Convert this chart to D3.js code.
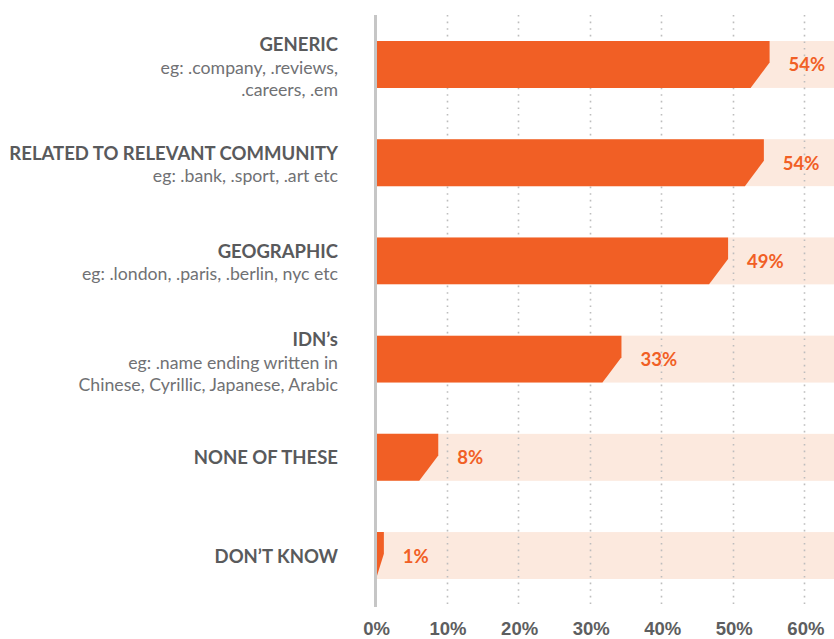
<!DOCTYPE html>
<meta charset="utf-8">
<style>
  body { margin: 0; background: #fff; }
  svg { display: block; font-family: Lato, "Open Sans", sans-serif; }
  .title { font-weight: 700; fill: #595a5c; font-size: 18.5px; }
  .sub { font-weight: 400; fill: #707174; font-size: 17.7px; }
  .pct { font-weight: 700; fill: #f15f25; font-size: 18.5px; }
  .tick text { font-weight: 700; fill: #5d5e60; font-size: 18.5px; }
</style>
<svg width="834" height="639"></svg>
<script src="https://cdn.jsdelivr.net/npm/d3@7"></script>
<script>

var categories = ["GENERIC", "RELATED TO RELEVANT COMMUNITY", "GEOGRAPHIC", "IDN\u2019s", "NONE OF THESE", "DON\u2019T KNOW"];
var subtitles = [
  ["eg: .company, .reviews,", ".careers, .em"],
  ["eg: .bank, .sport, .art etc"],
  ["eg: .london, .paris, .berlin, nyc etc"],
  ["eg: .name ending written in", "Chinese, Cyrillic, Japanese, Arabic"],
  [],
  []
];
// bar lengths as drawn, and the printed labels
var values = [55.0, 54.2, 49.2, 34.3, 8.7, 1.1];
var pctLabels = ["54%", "54%", "49%", "33%", "8%", "1%"];
var ticks = [0, 10, 20, 30, 40, 50, 60];

var svg = d3.select("svg"),
    width = +svg.attr("width"),
    height = +svg.attr("height");

var x = d3.scaleLinear().domain([0, 64]).range([376, 834]);
var y = d3.scaleBand()
    .domain(categories)
    .range([15, 605])
    .paddingInner(0.522)
    .paddingOuter(0.2645);

var rows = categories.map(function(c, i) {
  return { cat: c, sub: subtitles[i], value: values[i], label: pctLabels[i] };
});

// light background bands
svg.append("g")
  .selectAll("rect")
  .data(rows)
  .enter().append("rect")
    .attr("x", x(0))
    .attr("y", function(d) { return y(d.cat); })
    .attr("width", x(64) - x(0))
    .attr("height", y.bandwidth())
    .attr("fill", "#fce9de");

// dotted gridlines
svg.append("g")
  .selectAll("line")
  .data(ticks.slice(1))
  .enter().append("line")
    .attr("x1", function(d) { return Math.round(x(d)) - 0.5; })
    .attr("x2", function(d) { return Math.round(x(d)) - 0.5; })
    .attr("y1", 15)
    .attr("y2", 608)
    .attr("stroke", "#bdbdbd")
    .attr("stroke-width", 1.6)
    .attr("stroke-dasharray", "1.6,5");

// bars with the slanted end
svg.append("g")
  .selectAll("path")
  .data(rows)
  .enter().append("path")
    .attr("fill", "#f15f25")
    .attr("d", function(d) {
      var t = y(d.cat), h = y.bandwidth(), b = t + h;
      var x0 = x(0), xv = x(d.value);
      var xb = Math.max(x0, xv - 19);
      return "M" + x0 + "," + t + "L" + xv + "," + t + "L" + xv + "," + (t + h * 0.46) +
             "L" + xb + "," + b + "L" + x0 + "," + b + "Z";
    });

// value labels
svg.append("g")
  .selectAll("text")
  .data(rows)
  .enter().append("text")
    .attr("class", "pct")
    .attr("x", function(d) { return x(d.value) + 19; })
    .attr("y", function(d) { return y(d.cat) + y.bandwidth() / 2 + 7; })
    .text(function(d) { return d.label; });

// vertical axis line
svg.append("line")
    .attr("x1", 375.5).attr("x2", 375.5)
    .attr("y1", 15).attr("y2", 607)
    .attr("stroke", "#c6c6c6")
    .attr("stroke-width", 3);

// category labels
var lab = svg.append("g")
  .selectAll("text")
  .data(rows)
  .enter().append("text")
    .attr("text-anchor", "end")
    .attr("y", function(d) {
      var n = 1 + d.sub.length;
      return y(d.cat) + y.bandwidth() / 2 - 10 * (n - 1) + 7;
    });

lab.append("tspan")
    .attr("class", "title")
    .attr("x", 338)
    .text(function(d) { return d.cat; });

lab.selectAll("tspan.sub")
  .data(function(d) { return d.sub; })
  .enter().append("tspan")
    .attr("class", "sub")
    .attr("x", 338)
    .attr("dy", 22.5)
    .text(function(d) { return d; });

// bottom axis labels
var xAxis = d3.axisBottom(x)
    .tickValues(ticks)
    .tickSize(0)
    .tickPadding(0)
    .tickFormat(function(d) { return d + "%"; });

svg.append("g")
    .attr("transform", "translate(0,635)")
    .call(xAxis)
    .call(function(g) { g.select(".domain").remove(); })
    .selectAll("text")
    .attr("dy", 0);

</script>
